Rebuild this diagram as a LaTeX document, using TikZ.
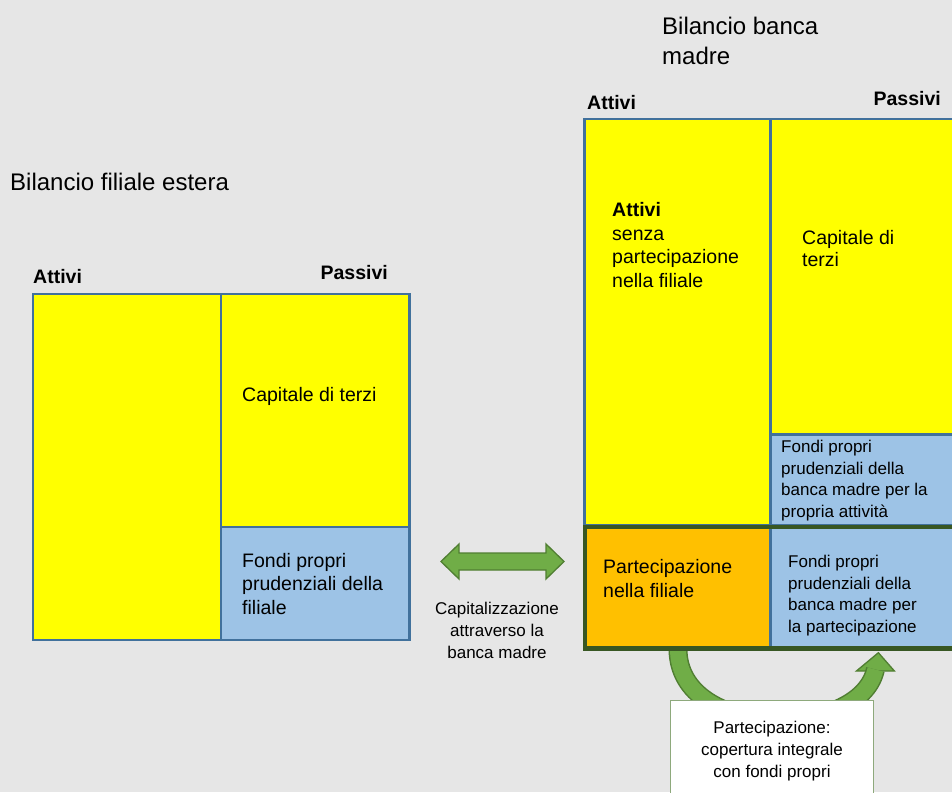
\documentclass[tikz,border=0pt]{standalone}
\usepackage{fontspec}
\setmainfont{Liberation Sans}
\usepackage{xcolor}
\definecolor{BGgray}{HTML}{E6E6E6}
\definecolor{CELLyellow}{HTML}{FFFF00}
\definecolor{CELLblue}{HTML}{9DC3E6}
\definecolor{CELLorange}{HTML}{FFC000}
\definecolor{CELLedge}{HTML}{41719C}
\definecolor{FRAMEgreen}{HTML}{385723}
\definecolor{ARROWfill}{HTML}{70AD47}
\definecolor{ARROWedge}{HTML}{507E32}
\definecolor{NOTEedge}{HTML}{8EA97C}
\usepackage{tikz}
\usetikzlibrary{calc, positioning}

\begin{document}
\begin{tikzpicture}[x=1pt, y=-1pt,
  cell/.style={draw=CELLedge, line width=2.2, anchor=north west, inner sep=0, outer sep=0},
  txt/.style={font=\fontsize{19.5}{23.5}\selectfont, align=left, inner sep=0, anchor=base west},
  small/.style={font=\fontsize{17}{21.5}\selectfont, align=left, inner sep=0, anchor=base west},
  bhead/.style={font=\fontsize{19.5}{23.5}\selectfont\bfseries, inner sep=0, anchor=base west},
  title/.style={font=\fontsize{24}{30}\selectfont, align=left, inner sep=0, anchor=base west}]
% Background
\clip (0,0) rectangle (952,792);
\fill[BGgray] (0,0) rectangle (952,792);

% Bilancio filiale (base = last line)
\node[title] (titF) at (10,190) {Bilancio filiale estera};
\node[bhead] (attFlab) at (33,283) {Attivi};
\node[bhead, anchor=base east] (pasFlab) at (388,279) {Passivi};
\node[cell, fill=CELLyellow, minimum width=187.7, minimum height=346.2] (attF) at (33.3,293.8) {};
\node[cell, fill=CELLyellow, minimum width=188.5, minimum height=232.9] (capF) at (221,293.8) {};
\node[cell, fill=CELLblue, minimum width=188.5, minimum height=113.3] (fpF) at (221,526.7) {};
\node[txt] (capFtxt) at (242,401) {Capitale di terzi};
\node[txt] (fpFtxt) at (242,614) {Fondi propri\\prudenziali della\\filiale};

% Capitalizzazione
\coordinate (capA) at (441,561.5);
\coordinate (capB) at (564,561.5);
\filldraw[fill=ARROWfill, draw=ARROWedge, line width=1.3, line join=miter]
  (capA) -- ++(18,-17.5) -- ++(0,9) -- ($(capB)+(-18,-8.5)$) -- ++(0,-9) -- (capB)
  -- ++(-18,17.5) -- ++(0,-9) -- ($(capA)+(18,8.5)$) -- ++(0,9) -- cycle;
\node[font=\fontsize{17}{22}\selectfont, align=center, inner sep=0, anchor=base] (capTxt) at (497,658)
  {Capitalizzazione\\attraverso la\\banca madre};

% Bilancio banca madre
\node[title] (titM) at (662,64) {Bilancio banca\\madre};
\node[bhead] (attMlab) at (587,109) {Attivi};
\node[bhead, anchor=base east] (pasMlab) at (941,105) {Passivi};
\node[cell, fill=CELLyellow, minimum width=186, minimum height=406] (attM) at (584.5,119) {};
\node[cell, fill=CELLyellow, minimum width=200, minimum height=315.5] (capM) at (770.5,119) {};
\node[cell, fill=CELLblue, minimum width=200, minimum height=90.5] (fpM) at (770.5,434.5) {};
\node[cell, fill=CELLorange, minimum width=186, minimum height=121.5] (partM) at (584.5,527) {};
\node[cell, fill=CELLblue, minimum width=200, minimum height=121.5] (fpP) at (770.5,527) {};

% Copertura integrale
\coordinate (curvS) at (678,649);
\coordinate (curvE) at (875.4,669.5);
\filldraw[fill=ARROWfill, draw=ARROWedge, line width=1.3, line join=miter]
  ($(curvE)+(-19,1.5)$) -- ($(curvE)+(3,-16.8)$) -- ($(curvE)+(19,1.5)$) -- cycle;
\draw[line width=19, draw=ARROWedge] (curvS) .. controls (678,740) and (860,740) .. (curvE);
\draw[line width=16, draw=ARROWfill] (curvS) .. controls (678,740) and (860,740) .. (curvE);
\node[draw=FRAMEgreen, line width=4.5, anchor=north west, inner sep=0, outer sep=0,
  minimum width=400, minimum height=121.5] (partFrame) at (585,527) {};

\node[txt] (attMtxt) at (612,287) {\textbf{Attivi}\\senza\\partecipazione\\nella filiale};
\node[txt, font=\fontsize{19.5}{22}\selectfont] (capMtxt) at (802,266) {Capitale di\\terzi};
\node[small] (fpMtxt) at (781,517) {Fondi propri\\prudenziali della\\banca madre per la\\propria attività};
\node[txt] (partMtxt) at (603,597) {Partecipazione\\nella filiale};
\node[small] (fpPtxt) at (788,632) {Fondi propri\\prudenziali della\\banca madre per\\la partecipazione};

% Nota
\node[draw=NOTEedge, fill=white, line width=1, anchor=north west, inner sep=0, outer sep=0,
  minimum width=203, minimum height=110] (noteBox) at (670.5,700) {};
\node[font=\fontsize{17}{22}\selectfont, align=center, inner sep=0, anchor=base] (noteTxt) at (772,777)
  {Partecipazione:\\copertura integrale\\con fondi propri};
\end{tikzpicture}
\end{document}
